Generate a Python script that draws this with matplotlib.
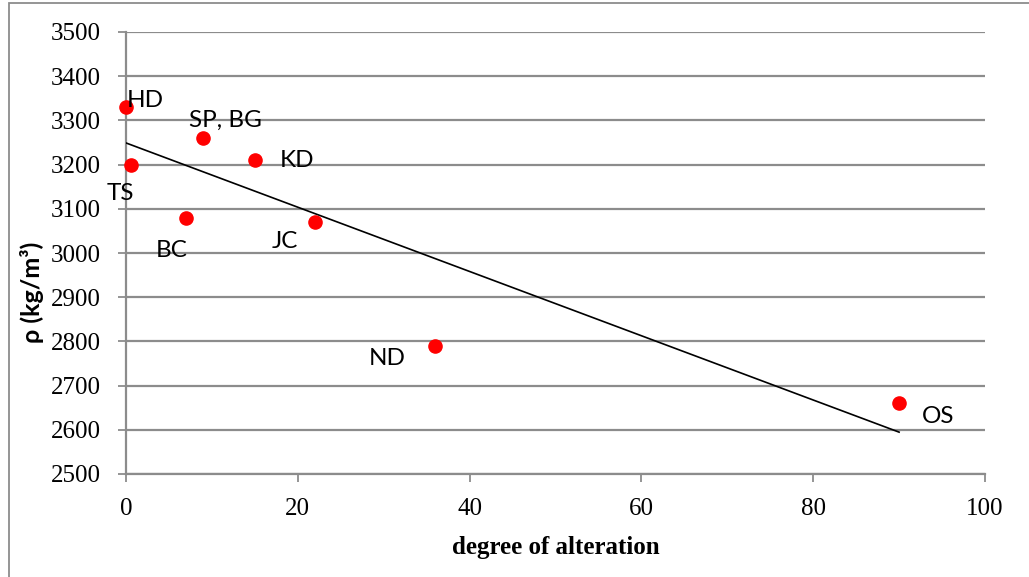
import matplotlib
matplotlib.use("Agg")
import matplotlib.pyplot as plt
from matplotlib.patches import Rectangle

# samples: degree of alteration vs density
names = ["HD", "TS", "SP, BG", "KD", "BC", "JC", "ND", "OS"]
alteration = [0, 0.6, 9, 15, 7, 22, 36, 90]
density = [3330, 3200, 3260, 3210, 3080, 3070, 2790, 2660]

# linear trend line
trend_intercept = 3249
trend_slope = -7.27
trend_x = [0, 90]

# label offsets (pixels) relative to each point, text anchored left/center
label_offsets = {"HD": (1, 7), "TS": (-25, -29), "SP, BG": (-14, 18),
                 "KD": (25, 0), "BC": (-30, -33), "JC": (-43, -19),
                 "ND": (-66, -13), "OS": (23, -13)}

grid_col = "#8c8c8c"

fig = plt.figure(figsize=(10.29, 5.77), dpi=100)
fig.patches.append(Rectangle((9 / 1029, -0.1), 1.2, 1.1 - 3 / 577,
                             transform=fig.transFigure, fill=False,
                             edgecolor=grid_col, linewidth=1.3))
ax = fig.add_axes([126 / 1029, 1 - 474 / 577, (985 - 126) / 1029, (474 - 32) / 577])

ax.set_xlim(0, 100)
ax.set_ylim(2500, 3500)
ax.set_xticks(range(0, 101, 20))
ax.set_yticks(range(2500, 3501, 100))
ax.yaxis.grid(True, color=grid_col, linewidth=1.6)
ax.set_axisbelow(True)

for side in ["top", "right"]:
    ax.spines[side].set_visible(False)
for side in ["left", "bottom"]:
    ax.spines[side].set_color(grid_col)
    ax.spines[side].set_linewidth(1.6)
ax.tick_params(axis="both", direction="out", length=6, width=1.3, color=grid_col,
               labelsize=18, labelcolor="black")
ax.tick_params(axis="x", pad=11)
ax.tick_params(axis="y", pad=12)
for lab in ax.get_xticklabels() + ax.get_yticklabels():
    lab.set_fontfamily("Liberation Serif")

ty = [trend_intercept + trend_slope * x for x in trend_x]
ax.plot(trend_x, ty, color="black", linewidth=1.2, zorder=3)

ax.scatter(alteration, density, s=90, color="#ff0000", zorder=4, clip_on=False)

for name, x, y in zip(names, alteration, density):
    ax.annotate(name, (x, y), xytext=label_offsets[name], textcoords="offset pixels",
                ha="left", va="center", fontsize=17.5, family="Lato", zorder=5)

ax.set_xlabel("degree of alteration", fontsize=18, fontweight="bold",
              family="Liberation Serif", labelpad=12)
ax.set_ylabel("ρ (kg/m³)", fontsize=18, fontweight="bold", family="Lato")
ax.yaxis.set_label_coords(-(126 - 44) / (985 - 126), (474 - 292) / (474 - 32))

fig.savefig("out.png", dpi=100)
